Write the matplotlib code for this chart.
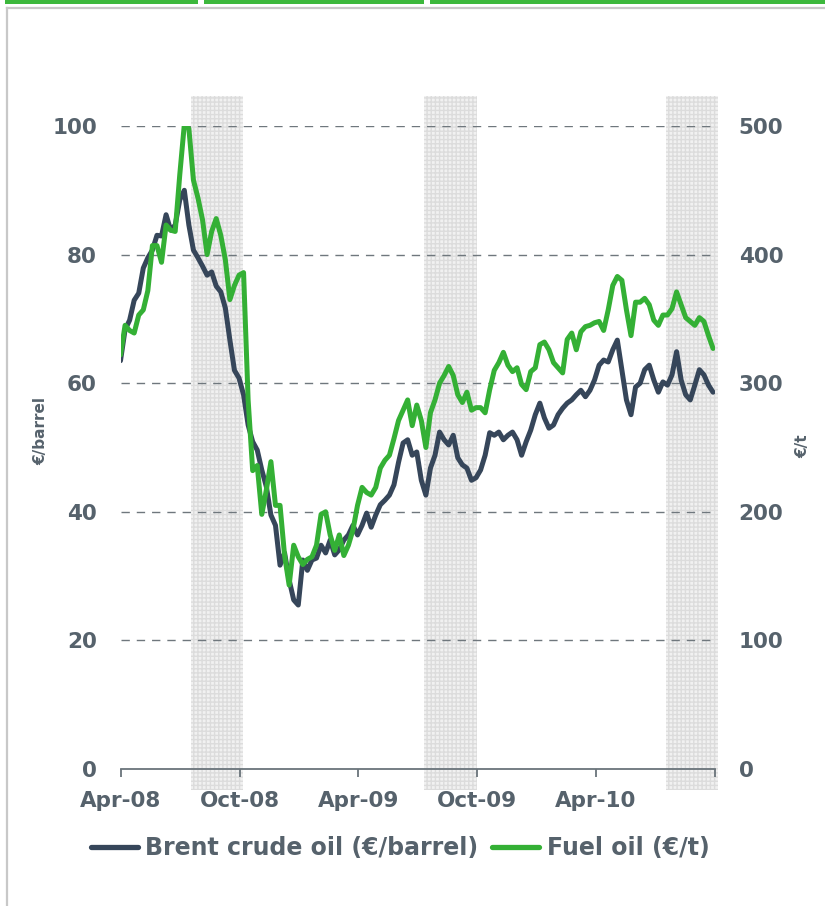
import matplotlib
matplotlib.use("Agg")
import matplotlib.pyplot as plt
import matplotlib.dates as mdates
from matplotlib.lines import Line2D
from matplotlib.patches import Rectangle
import pandas as pd

# ---------------- data (weekly) ----------------
start_date = "2008-04-01"
brent = [63.5, 68.3, 69.8, 72.9, 74.0, 77.9, 79.5, 80.7, 83.0, 82.9,
         86.2, 83.8, 84.6, 88.5, 90.0, 84.6, 80.7, 79.5, 78.2, 76.8,
         77.3, 75.1, 74.2, 71.7, 66.7, 62.0, 60.8, 58.2, 53.5, 50.9,
         49.6, 46.5, 43.9, 39.5, 37.9, 31.7, 33.6, 29.4, 26.3, 25.5,
         32.5, 30.9, 32.5, 32.8, 34.8, 33.6, 35.6, 33.3, 34.1, 35.6,
         36.4, 37.9, 36.4, 37.9, 39.8, 37.6, 39.5, 41.1, 41.8, 42.6,
         44.2, 47.7, 50.7, 51.2, 48.8, 49.3, 44.9, 42.6, 46.8, 48.8,
         52.4, 51.2, 50.4, 51.9, 48.4, 47.3, 46.8, 44.9, 45.3, 46.5,
         48.8, 52.3, 51.9, 52.4, 51.2, 51.9, 52.4, 51.2, 48.8, 50.9,
         52.7, 55.1, 56.9, 54.6, 53.0, 53.5, 55.1, 56.1, 56.9, 57.4,
         58.2, 58.9, 57.9, 58.9, 60.5, 62.8, 63.6, 63.3, 65.2, 66.7,
         62.1, 57.4, 55.1, 59.4, 60.0, 62.1, 62.8, 60.5, 58.6, 60.2,
         59.7, 61.3, 64.9, 60.5, 58.2, 57.4, 59.7, 62.1, 61.3, 59.7,
         58.6]
fuel = [322, 345, 341, 339, 353, 357, 372, 407, 407, 394,
        423, 419, 418, 462, 501, 498, 458, 444, 427, 400,
        418, 428, 415, 396, 365, 376, 384, 386, 287, 232,
        236, 198, 217, 239, 205, 205, 166, 143, 174, 165,
        159, 163, 165, 174, 198, 200, 182, 170, 182, 166,
        174, 186, 205, 219, 215, 213, 219, 234, 240, 244,
        257, 271, 279, 287, 267, 283, 271, 250, 277, 287,
        300, 306, 313, 306, 291, 285, 293, 279, 281, 281,
        277, 295, 310, 316, 324, 314, 309, 312, 299, 295,
        309, 312, 330, 332, 326, 316, 312, 308, 334, 339,
        326, 340, 344, 345, 347, 348, 341, 357, 376, 383,
        380, 357, 337, 363, 363, 366, 361, 349, 345, 353,
        353, 358, 371, 361, 351, 348, 345, 351, 348, 337,
        327]
dates = pd.date_range(start_date, periods=len(brent), freq="7D")

tick_dates = ["2008-04-01", "2008-10-01", "2009-04-01", "2009-10-01",
              "2010-04-01", "2010-10-01"]
tick_labels = ["Apr-08", "Oct-08", "Apr-09", "Oct-09", "Apr-10", ""]
shade_periods = [("2008-07-18", "2008-10-06"),
                 ("2009-07-11", "2009-09-30"),
                 ("2010-07-18", "2010-10-05")]
left_ticks = [0, 20, 40, 60, 80, 100]
right_ticks = [0, 100, 200, 300, 400, 500]

# ---------------- styling ----------------
TXT = "#56626c"
DARK = "#36465a"
GREEN = "#34b035"
W, H = 825, 906

fig = plt.figure(figsize=(W / 100, H / 100), dpi=100)
fig.patch.set_facecolor("white")

x0, x1 = 120.5, 715.0
y_top, y_bot = 126.0, 769.0
ax = fig.add_axes([x0 / W, 1 - y_bot / H, (x1 - x0) / W, (y_bot - y_top) / H])
ax2 = ax.twinx()

xmin = mdates.date2num(pd.Timestamp(tick_dates[0]))
xmax = mdates.date2num(pd.Timestamp(tick_dates[-1]))

# shaded periods
for a, b in shade_periods:
    ax.axvspan(pd.Timestamp(a), pd.Timestamp(b), ymin=-0.033, ymax=1.047,
               facecolor="#f1f1f1", edgecolor="#dcdcdc", hatch="++++",
               linewidth=0, zorder=0, clip_on=False)

# dashed grid
for v in left_ticks[1:]:
    ax.axhline(v, color="#6f777d", lw=1.0, dashes=(6, 5), zorder=1)

ax.plot(dates, brent, color=DARK, lw=3.6, solid_joinstyle="round",
        solid_capstyle="round", zorder=3)
ax2.plot(dates, fuel, color=GREEN, lw=3.6, solid_joinstyle="round",
         solid_capstyle="round", zorder=3)

ax.set_xlim(xmin, xmax)
ax.set_ylim(0, 100)
ax2.set_ylim(0, 500)
ax.patch.set_visible(False)
ax2.patch.set_visible(False)

for a_ in (ax, ax2):
    for s in ("top", "left", "right"):
        a_.spines[s].set_visible(False)
ax2.spines["bottom"].set_visible(False)
ax.spines["bottom"].set_color("#6a747b")
ax.spines["bottom"].set_linewidth(1.3)

ax.set_xticks([mdates.date2num(pd.Timestamp(d)) for d in tick_dates])
ax.set_xticklabels(tick_labels)
ax.tick_params(axis="x", length=6, width=1.3, color="#6a747b", pad=10,
               labelsize=15.5, labelcolor=TXT)
ax.set_yticks(left_ticks)
ax.tick_params(axis="y", length=0, pad=17, labelsize=15.5, labelcolor=TXT)
ax2.set_yticks(right_ticks)
ax2.tick_params(axis="y", length=0, pad=17, labelsize=15.5, labelcolor=TXT)
for lab in ax.get_xticklabels() + ax.get_yticklabels() + ax2.get_yticklabels():
    lab.set_fontweight("bold")

ax.set_ylabel("€/barrel", fontsize=11, fontweight="bold", color=TXT)
ax.yaxis.set_label_coords(-0.122, 0.526)
ax2.set_ylabel("€/t", fontsize=11, fontweight="bold", color=TXT, rotation=90)
ax2.yaxis.set_label_coords(1.135, 0.502)

# legend
handles = [Line2D([], [], color=DARK, lw=3.8, solid_capstyle="round"),
           Line2D([], [], color=GREEN, lw=3.8, solid_capstyle="round")]
leg = fig.legend(handles, ["Brent crude oil (€/barrel)", "Fuel oil (€/t)"],
                 loc="center", bbox_to_anchor=(400 / W, 1 - 848 / H),
                 ncol=2, frameon=False, handlelength=2.0, handletextpad=0.3,
                 columnspacing=0.6,
                 prop={"size": 17, "weight": "bold"})
for t in leg.get_texts():
    t.set_color(TXT)

# page decorations: top green bars and grey frame
for a, b in [(5, 198), (204, 424), (430, 825)]:
    fig.add_artist(Rectangle((a / W, 1 - 4 / H), (b - a) / W, 4 / H,
                             transform=fig.transFigure, facecolor="#3cb83c",
                             edgecolor="none"))
fig.add_artist(Line2D([7 / W, 1], [1 - 7.5 / H, 1 - 7.5 / H],
                      transform=fig.transFigure, color="#c8c8c8", lw=1.6))
fig.add_artist(Line2D([7 / W, 7 / W], [0, 1 - 7.5 / H],
                      transform=fig.transFigure, color="#c8c8c8", lw=1.6))

fig.savefig("out.png", dpi=100)
